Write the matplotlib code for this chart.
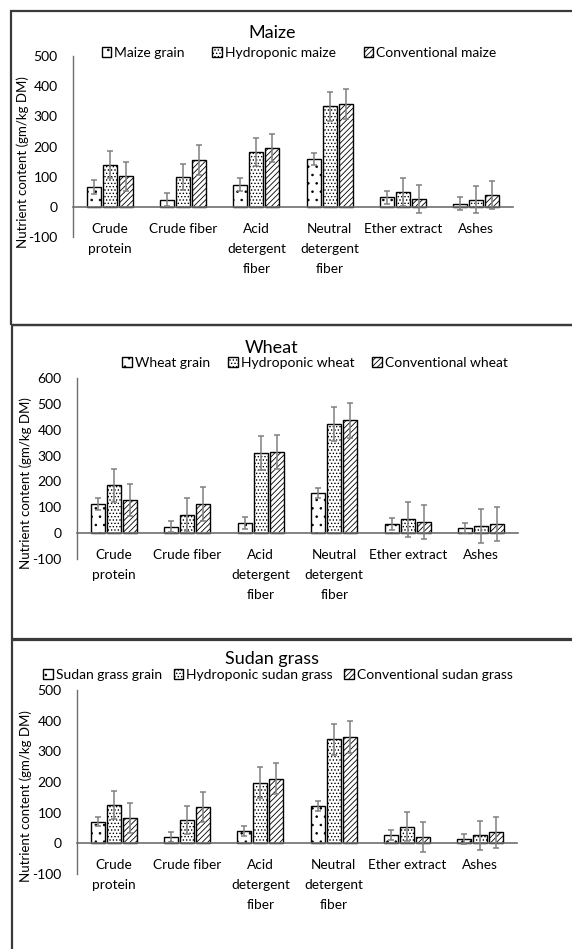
import numpy as np
import matplotlib
matplotlib.use('Agg')
from matplotlib import pyplot as plt
from matplotlib.patches import Rectangle

plt.rcParams['font.family'] = ['Lato', 'DejaVu Sans']
plt.rcParams['hatch.linewidth'] = 0.6
plt.rcParams['axes.unicode_minus'] = False

# Data (gm/kg DM), error = half of the error bar
categories = ['Crude\nprotein', 'Crude fiber', 'Acid\ndetergent\nfiber',
              'Neutral\ndetergent\nfiber', 'Ether extract', 'Ashes']

maize_labels = ['Maize grain', 'Hydroponic maize', 'Conventional maize']
maize_grain = [66, 24, 73, 159, 31, 11]
maize_grain_err = [22, 22, 21, 21, 23, 20]
maize_hydro = [140, 99, 183, 333, 50, 24]
maize_hydro_err = [44, 43, 46, 47, 46, 46]
maize_conv = [101, 155, 196, 341, 26, 39]
maize_conv_err = [47, 51, 47, 49, 48, 47]

wheat_labels = ['Wheat grain', 'Hydroponic wheat', 'Conventional wheat']
wheat_grain = [112, 25, 40, 155, 35, 21]
wheat_grain_err = [23, 21, 23, 19, 24, 20]
wheat_hydro = [185, 70, 311, 422, 53, 27]
wheat_hydro_err = [65, 67, 66, 67, 67, 66]
wheat_conv = [128, 112, 314, 436, 43, 36]
wheat_conv_err = [63, 66, 67, 67, 64, 66]

sudan_labels = ['Sudan grass grain', 'Hydroponic sudan grass', 'Conventional sudan grass']
sudan_grain = [71, 20, 41, 122, 28, 13]
sudan_grain_err = [16, 17, 16, 15, 17, 16]
sudan_hydro = [125, 76, 198, 339, 54, 26]
sudan_hydro_err = [47, 46, 50, 50, 48, 48]
sudan_conv = [82, 118, 211, 347, 21, 36]
sudan_conv_err = [48, 50, 50, 51, 50, 51]

W, H = 572, 949
fig = plt.figure(figsize=(W / 100, H / 100), dpi=100)


def fx(x):
    return x / W


def fy(y):
    return 1 - y / H


# panel frames
for (x0, y0, x1, y1) in [(11, 11, 600, 325), (12, 325, 600, 639), (12, 640, 600, 990)]:
    fig.patches.append(Rectangle((fx(x0), fy(y1)), fx(x1 - x0), (y1 - y0) / H,
                                 transform=fig.transFigure, fill=False,
                                 edgecolor='#3a3a3a', lw=1.6))

panels = [
    dict(title='Maize', labels=maize_labels,
         vals=[maize_grain, maize_hydro, maize_conv],
         errs=[maize_grain_err, maize_hydro_err, maize_conv_err],
         box=(73, 56, 513, 237), ylim=(-100, 500), yl=(23, 162),
         title_y=33, leg_y=53, leg_x=299, colsp=2.0),
    dict(title='Wheat', labels=wheat_labels,
         vals=[wheat_grain, wheat_hydro, wheat_conv],
         errs=[wheat_grain_err, wheat_hydro_err, wheat_conv_err],
         box=(77, 378, 518, 559), ylim=(-100, 600), yl=(26, 483),
         title_y=348, leg_y=363, leg_x=315, colsp=1.3),
    dict(title='Sudan grass', labels=sudan_labels,
         vals=[sudan_grain, sudan_hydro, sudan_conv],
         errs=[sudan_grain_err, sudan_hydro_err, sudan_conv_err],
         box=(77, 690, 517, 874), ylim=(-100, 500), yl=(26, 796),
         title_y=659, leg_y=675, leg_x=278, colsp=0.85),
]

hatches = ['..', '.....', '//////']
x = np.arange(len(categories))
offs = [-0.218, 0, 0.218]

for p in panels:
    l, t, r, b = p['box']
    ax = fig.add_axes([fx(l), fy(b), fx(r - l), (b - t) / H])
    handles = []
    for k in range(3):
        bars = ax.bar(x + offs[k], p['vals'][k], width=0.19, color='white',
                      edgecolor='black', hatch=hatches[k], lw=1.0,
                      label=p['labels'][k], zorder=2)
        ax.errorbar(x + offs[k], p['vals'][k], yerr=p['errs'][k], fmt='none',
                    ecolor='#808080', elinewidth=1.1, capsize=2.5, capthick=1.1, zorder=3)
        handles.append(bars)
    ax.set_xlim(-0.5, 5.5)
    ax.set_ylim(*p['ylim'])
    ax.set_yticks(np.arange(p['ylim'][0], p['ylim'][1] + 1, 100))
    ax.set_xticks(x)
    ax.set_xticklabels([])
    # category names hang just under the zero line
    for i, name in enumerate(categories):
        ax.annotate(name, (i, 0), xytext=(0, -16), textcoords='offset pixels',
                    ha='center', va='top', fontsize=9.8, linespacing=1.8,
                    annotation_clip=False)
    ax.spines['top'].set_visible(False)
    ax.spines['right'].set_visible(False)
    ax.spines['bottom'].set_position(('data', 0))
    ax.spines['bottom'].set_color('#6e6e6e')
    ax.spines['bottom'].set_linewidth(1.2)
    ax.spines['left'].set_color('#6e6e6e')
    ax.spines['left'].set_linewidth(1.0)
    ax.tick_params(axis='y', length=0, labelsize=10, pad=11)
    ax.tick_params(axis='x', length=0)
    ax.patch.set_alpha(0)

    fig.text(fx(272), fy(p['title_y']), p['title'], ha='center', va='center', fontsize=13)
    fig.text(fx(p['yl'][0]), fy(p['yl'][1]), 'Nutrient content (gm/kg DM)',
             rotation=90, ha='center', va='center', fontsize=9.5)
    fig.legend(handles=handles, loc='center', ncol=3,
               bbox_to_anchor=(fx(p['leg_x']), fy(p['leg_y'])),
               frameon=False, fontsize=10, handlelength=0.7, handleheight=0.7,
               handletextpad=0.2, columnspacing=p['colsp'], borderpad=0, borderaxespad=0)

plt.savefig('out.png', dpi=100)
